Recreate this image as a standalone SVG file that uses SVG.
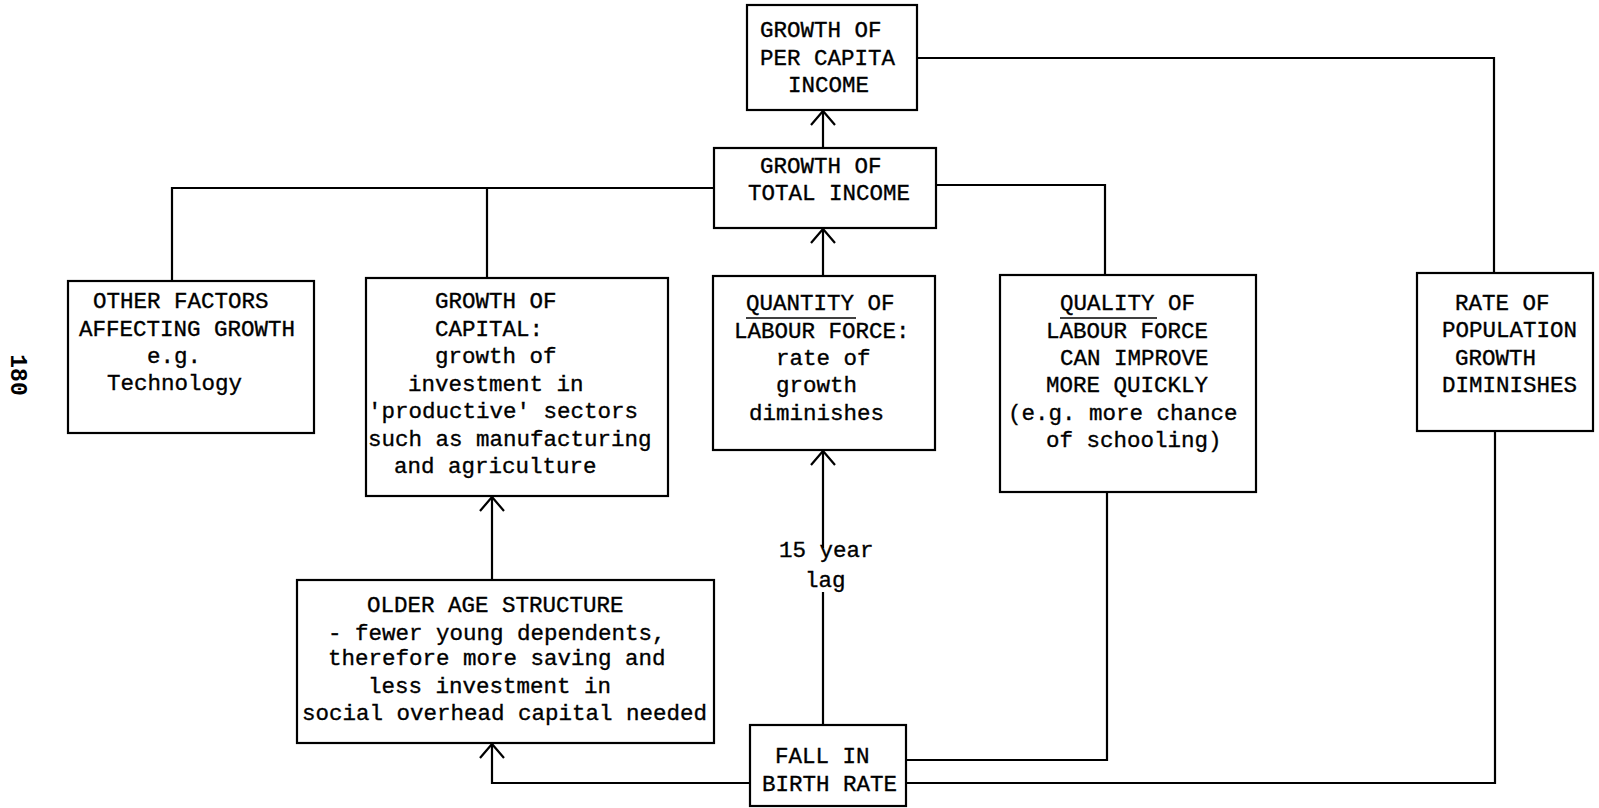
<svg xmlns="http://www.w3.org/2000/svg" width="1599" height="808" viewBox="0 0 1599 808">
<style>
  .box { fill: #fff; stroke: #000; stroke-width: 2.2; }
  .t { font-family: "Liberation Mono", "Courier New", monospace; font-size: 22.5px; fill: #000; stroke: #000; stroke-width: 0.35; }
  .c { fill: none; stroke: #000; stroke-width: 2.2; }
  .u { stroke: #000; stroke-width: 1.6; }
  .pg { font-family: "Liberation Mono", monospace; font-size: 23px; font-weight: bold; fill: #000; }
</style>
<defs>
  <marker id="arr" viewBox="-16 -16 32 32" markerWidth="32" markerHeight="32" markerUnits="userSpaceOnUse" refX="0" refY="0" orient="auto">
    <path d="M -14 -12 L 0 0 L -14 12" fill="none" stroke="#000" stroke-width="2.2"/>
  </marker>
</defs>
<rect width="1599" height="808" fill="#fff"/>

<text class="pg" transform="translate(11,375) rotate(90)" text-anchor="middle">180</text>

<g id="connectors">
  <path class="c" d="M 823 148 L 823 111" marker-end="url(#arr)"/>
  <path class="c" d="M 917 58 L 1494 58 L 1494 273"/>
  <path class="c" d="M 714 188 L 172 188 L 172 281"/>
  <path class="c" d="M 487 188 L 487 278"/>
  <path class="c" d="M 936 185 L 1105 185 L 1105 275"/>
  <path class="c" d="M 823 276 L 823 229" marker-end="url(#arr)"/>
  <path class="c" d="M 823 725 L 823 592"/>
  <path class="c" d="M 823 548 L 823 451" marker-end="url(#arr)"/>
  <path class="c" d="M 750 783 L 492 783 L 492 744" marker-end="url(#arr)"/>
  <path class="c" d="M 492 580 L 492 497" marker-end="url(#arr)"/>
  <path class="c" d="M 906 760 L 1107 760 L 1107 492"/>
  <path class="c" d="M 906 783 L 1495 783 L 1495 431"/>
  <text class="t" x="779" y="557">15 year</text>
  <text class="t" x="805" y="587">lag</text>
</g>

<g id="per-capita-income">
  <rect class="box" x="747" y="5" width="170" height="105"/>
  <text class="t" x="760" y="37">GROWTH OF</text>
  <text class="t" x="760" y="65">PER CAPITA</text>
  <text class="t" x="788" y="92">INCOME</text>
</g>

<g id="total-income">
  <rect class="box" x="714" y="148" width="222" height="80"/>
  <text class="t" x="760" y="173">GROWTH OF</text>
  <text class="t" x="748" y="200">TOTAL INCOME</text>
</g>

<g id="other-factors">
  <rect class="box" x="68" y="281" width="246" height="152"/>
  <text class="t" x="93" y="308">OTHER FACTORS</text>
  <text class="t" x="79" y="336">AFFECTING GROWTH</text>
  <text class="t" x="147" y="363">e.g.</text>
  <text class="t" x="107" y="390">Technology</text>
</g>

<g id="growth-of-capital">
  <rect class="box" x="366" y="278" width="302" height="218"/>
  <text class="t" x="435" y="308">GROWTH OF</text>
  <text class="t" x="435" y="336">CAPITAL:</text>
  <text class="t" x="435" y="363">growth of</text>
  <text class="t" x="408" y="391">investment in</text>
  <text class="t" x="368" y="418">'productive' sectors</text>
  <text class="t" x="368" y="446">such as manufacturing</text>
  <text class="t" x="394" y="473">and agriculture</text>
</g>

<g id="quantity-of-labour">
  <rect class="box" x="713" y="276" width="222" height="174"/>
  <text class="t" x="746" y="310">QUANTITY OF</text>
  <line class="u" x1="746" y1="318" x2="856" y2="318"/>
  <text class="t" x="734" y="338">LABOUR FORCE:</text>
  <text class="t" x="776" y="365">rate of</text>
  <text class="t" x="776" y="392">growth</text>
  <text class="t" x="749" y="420">diminishes</text>
</g>

<g id="quality-of-labour">
  <rect class="box" x="1000" y="275" width="256" height="217"/>
  <text class="t" x="1060" y="310">QUALITY OF</text>
  <line class="u" x1="1060" y1="318" x2="1157" y2="318"/>
  <text class="t" x="1046" y="338">LABOUR FORCE</text>
  <text class="t" x="1060" y="365">CAN IMPROVE</text>
  <text class="t" x="1046" y="392">MORE QUICKLY</text>
  <text class="t" x="1008" y="420">(e.g. more chance</text>
  <text class="t" x="1046" y="447">of schooling)</text>
</g>

<g id="population-growth">
  <rect class="box" x="1417" y="273" width="176" height="158"/>
  <text class="t" x="1455" y="310">RATE OF</text>
  <text class="t" x="1442" y="337">POPULATION</text>
  <text class="t" x="1455" y="365">GROWTH</text>
  <text class="t" x="1442" y="392">DIMINISHES</text>
</g>

<g id="older-age-structure">
  <rect class="box" x="297" y="580" width="417" height="163"/>
  <text class="t" x="367" y="612">OLDER AGE STRUCTURE</text>
  <text class="t" x="328" y="640">- fewer young dependents,</text>
  <text class="t" x="328" y="665">therefore more saving and</text>
  <text class="t" x="368" y="693">less investment in</text>
  <text class="t" x="302" y="720">social overhead capital needed</text>
</g>

<g id="fall-in-birth-rate">
  <rect class="box" x="750" y="725" width="156" height="81"/>
  <text class="t" x="775" y="763">FALL IN</text>
  <text class="t" x="762" y="791">BIRTH RATE</text>
</g>
</svg>
